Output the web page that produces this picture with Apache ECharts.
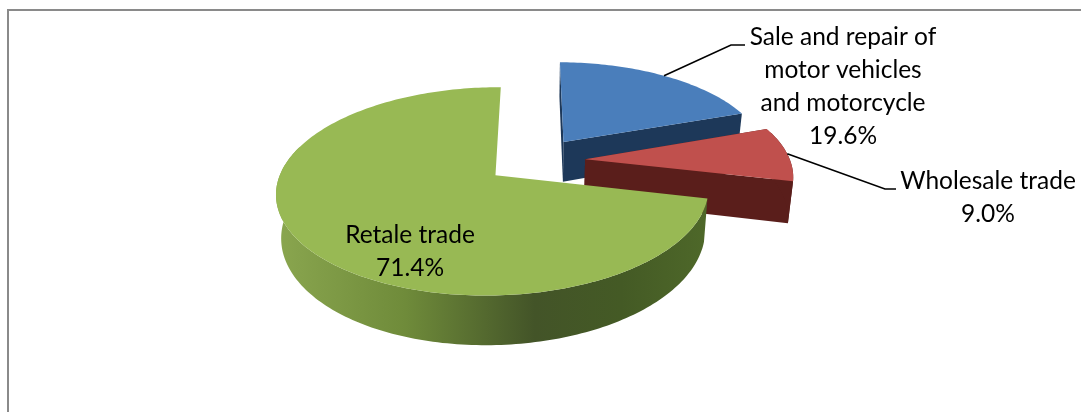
<!DOCTYPE html>
<html>
<head>
<meta charset="utf-8">
<style>
  html, body { margin: 0; padding: 0; background: #fff; }
  #chart { width: 1081px; height: 412px; }
</style>
<script src="https://cdn.jsdelivr.net/npm/echarts@6/dist/echarts.min.js"></script>
</head>
<body>
<div id="chart"></div>
<script>
// data
const categories = ['Sale and repair of\nmotor vehicles\nand motorcycle', 'Wholesale trade', 'Retale trade'];
const shares = [19.6, 9.0, 71.4];

// colours per slice
const topColors = ['#4a7ebb', '#c0504d', '#98b954'];
const wallColors = ['#1d3859', '#5a1e1b', null];

// label placing: [text centre x, first line y, leader elbow x, elbow y, leader end x]
const labelSpots = [
  [843, 37, 731, 45, 745],
  [988, 181, 885, 189, 896],
  [410, 235, null, null, null]
];

// fake 3d projection of the pie plane
const cx = 535.5, cy = 160.5, radX = 208, radY = 97;
const perspY = 0.15, perspX = 0.01, depth = 41, explode = 0.24, shrink = 0.98;

function project(x, y, down) {
  let w = 1 + perspY * y + perspX * x;
  let px = radX * x / w;
  return [cx + (down ? px * shrink : px), cy - radY * y / w + (down ? depth / w : 0)];
}

function buildSlice(start, end, idx) {
  let mid = (start + end) / 2;
  let ox = explode * Math.sin(mid), oy = explode * Math.cos(mid);
  let at = function (a, down) {
    return project(ox + Math.sin(a), oy + Math.cos(a), down);
  };
  let arcTop = [], wallTop = [], wallBottom = [];
  let steps = Math.ceil((end - start) / 0.02);
  for (let i = 0; i <= steps; i++) {
    let a = start + (end - start) * i / steps;
    arcTop.push(at(a, false));
    // only the part of the rim that faces the viewer gets a wall
    if (Math.cos(a) < 0.3) {
      wallTop.push(at(a, false));
      wallBottom.push(at(a, true));
    }
  }
  let apex = project(ox, oy, false), apexDown = project(ox, oy, true);
  let children = [];
  let poly = function (points, fill) {
    children.push({ type: 'polygon', shape: { points: points }, style: { fill: fill } });
  };
  // walls first, the top covers what would be hidden
  let rim = wallTop.concat(wallBottom.reverse());
  if (wallColors[idx]) {
    poly([apex, arcTop[0], at(start, true), apexDown], wallColors[idx]);
    poly([apex, arcTop[steps], at(end, true), apexDown], wallColors[idx]);
    if (rim.length) {
      poly(rim, wallColors[idx]);
    }
  } else {
    poly(rim, new echarts.graphic.LinearGradient(0, 0, 1, 0, [
      { offset: 0, color: '#8aa64f' },
      { offset: 0.3, color: '#6f8b3a' },
      { offset: 0.6, color: '#435428' },
      { offset: 0.8, color: '#445a25' },
      { offset: 1, color: '#4e6829' }
    ]));
  }
  poly([apex].concat(arcTop), topColors[idx]);

  let spot = labelSpots[idx];
  if (spot[2] !== null) {
    children.push({
      type: 'polyline',
      shape: { points: [at(mid, false), [spot[2], spot[3]], [spot[4], spot[3]]] },
      style: { stroke: '#000', lineWidth: 1.6, fill: null }
    });
  }
  children.push({
    type: 'text',
    style: {
      x: spot[0], y: spot[1] - 16,
      text: categories[idx] + '\n' + shares[idx].toFixed(1) + '%',
      font: '24.5px Lato',
      lineHeight: 33,
      align: 'center',
      fill: '#000'
    }
  });
  return { type: 'group', children: children };
}

let chart = echarts.init(document.getElementById('chart'));
let total = shares.reduce(function (s, v) { return s + v; }, 0);

chart.setOption({
  animation: false,
  backgroundColor: '#fff',
  graphic: [
    { type: 'line', shape: { x1: 7, y1: 10, x2: 1081, y2: 10 }, style: { stroke: '#8a8a8a', lineWidth: 2 } },
    { type: 'line', shape: { x1: 8, y1: 9, x2: 8, y2: 412 }, style: { stroke: '#8a8a8a', lineWidth: 2 } }
  ],
  series: [{
    type: 'custom',
    coordinateSystem: 'none',
    data: shares,
    renderItem: function (params, api) {
      let before = shares.slice(0, params.dataIndex).reduce(function (s, v) { return s + v; }, 0);
      let start = before / total * Math.PI * 2;
      let end = start + api.value(0) / total * Math.PI * 2;
      return buildSlice(start, end, params.dataIndex);
    }
  }]
});
</script>
</body>
</html>
